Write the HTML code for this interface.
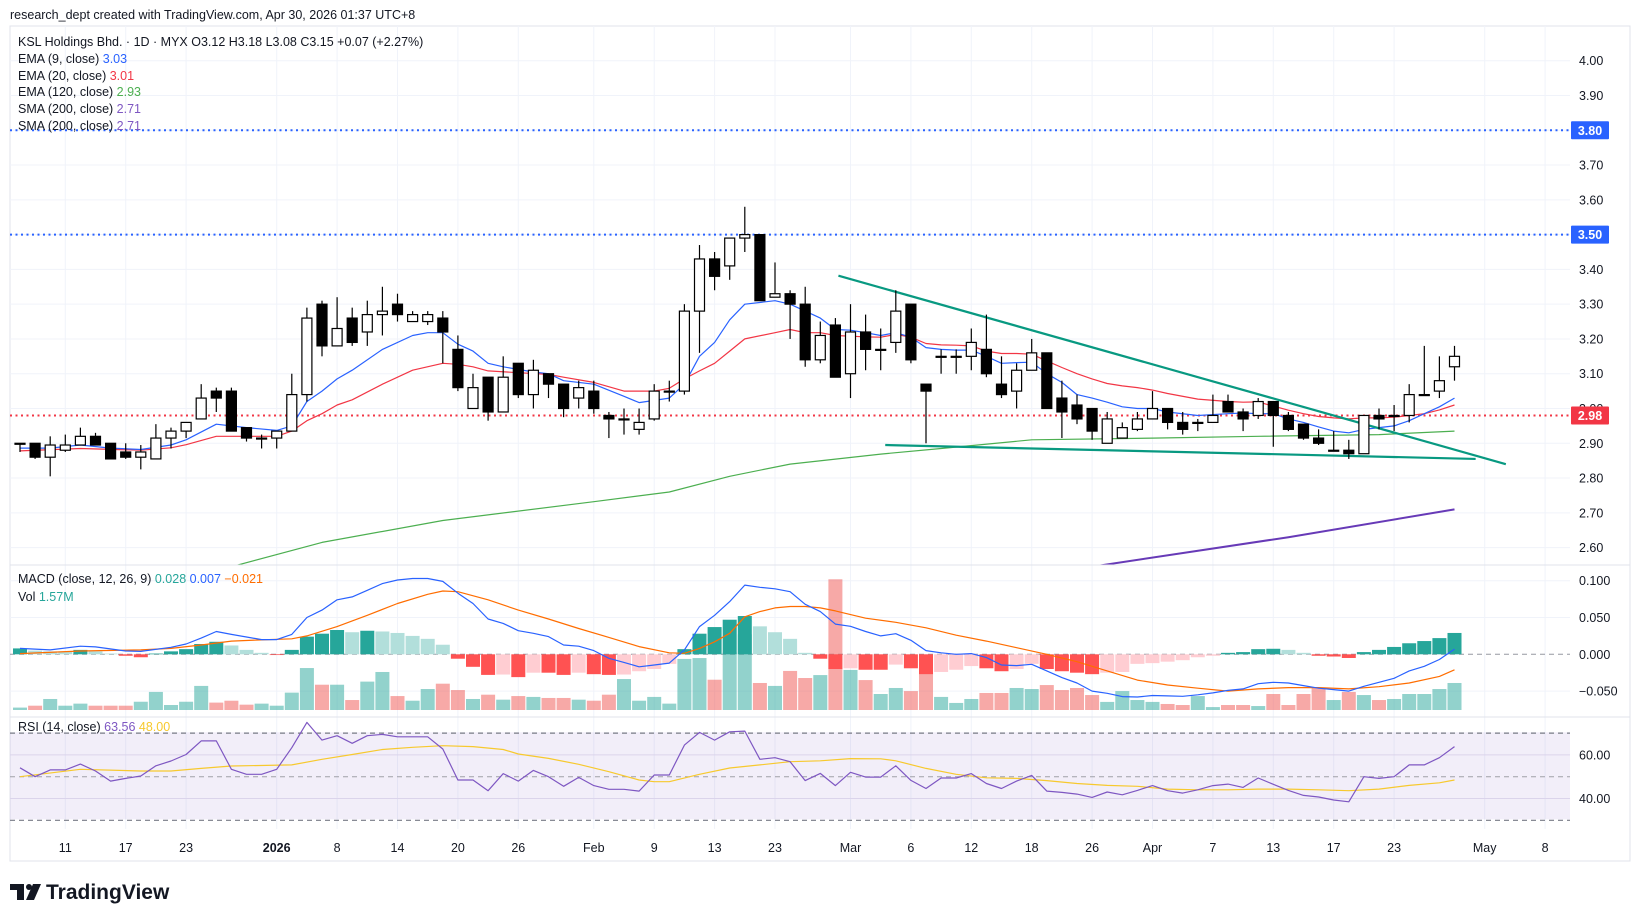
<!DOCTYPE html>
<html><head><meta charset="utf-8"><style>
html,body{margin:0;padding:0;background:#fff;}
svg{display:block;font-family:"Liberation Sans",sans-serif;}
</style></head><body>
<svg id="chart" width="1634" height="917" viewBox="0 0 1634 917" xmlns="http://www.w3.org/2000/svg">
<defs>
<clipPath id="cp-price"><rect x="10" y="26" width="1560" height="539"/></clipPath>
<clipPath id="cp-macd"><rect x="10" y="565" width="1560" height="152"/></clipPath>
<clipPath id="cp-rsi"><rect x="10" y="717" width="1560" height="112"/></clipPath>
</defs>
<text x="10" y="19" font-size="12.5" fill="#131722">research_dept created with TradingView.com, Apr 30, 2026 01:37 UTC+8</text>
<rect x="10" y="26" width="1620" height="835" fill="#fff" stroke="#e0e3eb"/>
<g id="grid"></g>
<rect x="10" y="732.3" width="1560" height="87" fill="#7e57c2" fill-opacity="0.1"/>
<g id="price" clip-path="url(#cp-price)"></g>
<g id="macd" clip-path="url(#cp-macd)"></g>
<g id="rsi" clip-path="url(#cp-rsi)"></g>
<g id="axes"></g>
<g font-size="12.5" fill="#131722">
<text x="18" y="46">KSL Holdings Bhd. · 1D · MYX  O3.12  H3.18  L3.08  C3.15  +0.07 (+2.27%)</text>
<text x="18" y="63">EMA (9, close) <tspan fill="#2962ff">3.03</tspan></text>
<text x="18" y="80">EMA (20, close) <tspan fill="#f23645">3.01</tspan></text>
<text x="18" y="96">EMA (120, close) <tspan fill="#4caf50">2.93</tspan></text>
<text x="18" y="113">SMA (200, close) <tspan fill="#7e57c2">2.71</tspan></text>
<text x="18" y="130">SMA (200, close) <tspan fill="#7e57c2">2.71</tspan></text>
<text x="18" y="583">MACD (close, 12, 26, 9) <tspan fill="#26a69a">0.028</tspan> <tspan fill="#2962ff">0.007</tspan> <tspan fill="#ff6d00">−0.021</tspan></text>
<text x="18" y="601">Vol <tspan fill="#26a69a">1.57M</tspan></text>
<text x="18" y="731">RSI (14, close) <tspan fill="#7e57c2">63.56</tspan> <tspan fill="#f7c92e">48.00</tspan></text>
</g>
<g>
<path d="M10 884 H24 V900 H17 V890 H10 Z" fill="#131722"/>
<circle cx="29" cy="887" r="3" fill="#131722"/>
<path d="M33 884 H41 L34 900 H26 Z" fill="#131722"/>
<text x="46" y="899" font-size="21" font-weight="bold" fill="#131722">TradingView</text>
</g>
</svg>
<script>
const opens=[2.90,2.90,2.86,2.88,2.895,2.92,2.90,2.875,2.86,2.855,2.915,2.935,2.97,3.05,3.05,2.945,2.915,2.915,2.935,3.04,3.30,3.18,3.26,3.22,3.27,3.30,3.25,3.25,3.26,3.17,3.00,3.09,2.99,3.13,3.04,3.10,3.07,3.03,3.05,2.98,2.97,2.94,2.97,3.05,3.05,3.28,3.43,3.41,3.49,3.50,3.32,3.33,3.30,3.14,3.24,3.10,3.22,3.17,3.19,3.30,3.07,3.15,3.15,3.15,3.17,3.07,3.05,3.11,3.16,3.03,3.01,3.00,2.90,2.915,2.94,2.97,3.00,2.96,2.96,2.96,3.02,2.99,2.98,3.02,2.98,2.955,2.915,2.88,2.88,2.87,2.98,2.98,2.98,3.04,3.05,3.12];
const highs=[2.90,2.90,2.92,2.925,2.945,2.93,2.90,2.90,2.895,2.955,2.945,2.96,3.07,3.06,3.06,2.945,2.925,2.935,3.10,3.29,3.31,3.32,3.29,3.31,3.35,3.33,3.28,3.28,3.28,3.21,3.10,3.09,3.15,3.13,3.14,3.10,3.07,3.08,3.08,2.99,3.00,3.00,3.07,3.08,3.30,3.47,3.45,3.49,3.58,3.50,3.42,3.34,3.35,3.25,3.26,3.30,3.27,3.23,3.34,3.30,3.07,3.17,3.17,3.23,3.27,3.15,3.13,3.20,3.16,3.08,3.04,3.00,2.99,2.96,2.99,3.05,3.00,2.99,2.97,3.04,3.04,3.00,3.03,3.02,2.99,2.955,2.94,2.935,2.91,2.98,3.00,3.01,3.07,3.18,3.15,3.18];
const lows=[2.875,2.855,2.805,2.875,2.895,2.895,2.855,2.855,2.825,2.855,2.885,2.915,2.97,2.99,2.935,2.905,2.885,2.885,2.935,3.02,3.15,3.18,3.18,3.18,3.21,3.25,3.25,3.24,3.13,3.05,3.00,2.965,2.99,3.03,3.00,3.03,2.975,3.00,2.985,2.915,2.925,2.925,2.965,3.02,3.04,3.16,3.34,3.37,3.45,3.31,3.32,3.20,3.12,3.13,3.09,3.03,3.11,3.11,3.16,3.13,2.90,3.10,3.10,3.11,3.09,3.03,3.00,3.11,3.00,2.915,2.955,2.91,2.90,2.915,2.935,2.97,2.94,2.925,2.935,2.96,2.99,2.935,2.97,2.89,2.935,2.91,2.895,2.88,2.855,2.87,2.94,2.935,2.96,3.04,3.03,3.08];
const closes=[2.90,2.86,2.895,2.895,2.92,2.895,2.855,2.86,2.875,2.915,2.935,2.96,3.03,3.03,2.935,2.915,2.915,2.935,3.04,3.26,3.18,3.23,3.19,3.27,3.28,3.27,3.27,3.27,3.22,3.06,3.06,2.99,3.09,3.04,3.11,3.07,3.00,3.06,3.00,2.97,2.97,2.96,3.05,3.05,3.28,3.43,3.38,3.49,3.50,3.31,3.33,3.30,3.14,3.21,3.09,3.22,3.17,3.17,3.28,3.14,3.05,3.15,3.15,3.19,3.10,3.04,3.11,3.16,3.00,2.99,2.97,2.935,2.97,2.945,2.97,3.00,2.96,2.94,2.96,2.98,2.99,2.97,3.02,2.98,2.94,2.915,2.90,2.88,2.87,2.98,2.97,2.98,3.04,3.04,3.08,3.15];
const volumes=[0.14,0.25,0.64,0.25,0.37,0.25,0.25,0.25,0.48,1.05,0.29,0.48,1.40,0.43,0.54,0.31,0.37,0.25,1.01,2.44,1.47,1.47,0.58,1.65,2.21,0.81,0.54,1.22,1.53,1.16,0.64,0.89,0.60,0.81,0.76,0.70,0.70,0.60,0.54,0.89,1.80,0.54,0.76,0.37,2.97,3.02,1.76,3.35,4.4,1.57,1.40,2.27,1.86,2.03,7.6,2.33,1.74,0.93,1.28,1.10,2.09,0.76,0.41,0.64,0.99,0.99,1.28,1.22,1.45,1.16,1.28,0.87,0.47,1.10,0.58,0.47,0.35,0.29,0.81,0.17,0.29,0.29,0.23,0.93,0.29,0.93,1.30,0.58,1.05,0.87,0.58,0.64,0.93,0.93,1.22,1.57];
const ema9Idx=[0,2,4,6,8,10,11,13,15,17,18,19,20,21,22,24,26,27,28,29,30,31,32,34,35,36,38,40,41,43,44,45,46,47,48,50,51,52,53,54,55,56,57,58,59,60,61,62,63,64,65,66,67,68,69,70,71,72,73,74,75,76,78,80,81,82,83,84,85,86,87,88,89,90,91,92,93,94,95];
const ema9Val=[2.886,2.886,2.895,2.886,2.882,2.895,2.91,2.955,2.945,2.937,2.95,3.02,3.05,3.085,3.11,3.17,3.21,3.218,3.218,3.185,3.165,3.13,3.12,3.105,3.10,3.08,3.07,3.035,3.017,3.03,3.07,3.15,3.19,3.255,3.30,3.31,3.30,3.28,3.26,3.227,3.225,3.218,3.21,3.218,3.205,3.175,3.17,3.168,3.168,3.15,3.13,3.132,3.133,3.10,3.075,3.04,3.03,3.018,3.005,3.00,3.00,2.99,2.98,2.985,2.987,2.985,2.985,2.97,2.96,2.947,2.935,2.93,2.94,2.945,2.95,2.965,2.985,3.005,3.03];
const ema20Idx=[0,4,8,10,11,13,15,17,18,19,20,21,22,24,26,28,29,30,31,33,35,36,38,40,42,43,44,45,46,47,48,50,51,52,53,54,55,56,57,58,59,60,61,62,63,64,65,66,67,68,69,70,71,72,73,74,75,76,78,80,81,82,83,84,85,86,87,88,89,90,91,92,93,94,95];
const ema20Val=[2.878,2.885,2.88,2.887,2.896,2.92,2.92,2.92,2.935,2.965,2.985,3.01,3.025,3.07,3.11,3.13,3.127,3.12,3.108,3.103,3.098,3.09,3.075,3.05,3.05,3.058,3.085,3.108,3.13,3.165,3.20,3.218,3.227,3.218,3.218,3.21,3.208,3.206,3.205,3.213,3.205,3.187,3.183,3.182,3.18,3.165,3.158,3.158,3.156,3.137,3.118,3.10,3.085,3.072,3.065,3.06,3.053,3.043,3.027,3.02,3.018,3.019,3.007,2.995,2.985,2.977,2.973,2.97,2.973,2.973,2.975,2.98,2.985,2.996,3.01];
const ema120Idx=[14,20,28,38,43,47,51,57,61,67,75,82,90,95];
const ema120Val=[2.545,2.615,2.678,2.732,2.76,2.805,2.84,2.869,2.885,2.91,2.915,2.92,2.925,2.935];
const sma200Idx=[71,84,95];
const sma200Val=[2.545,2.63,2.71];
const hist=[0.008,0.005,0.004,0.004,0.006,0.004,0.001,-0.002,-0.004,0.001,0.004,0.007,0.014,0.017,0.012,0.006,0.002,-0.001,0.006,0.024,0.028,0.033,0.030,0.032,0.031,0.029,0.025,0.021,0.013,-0.006,-0.017,-0.028,-0.0275,-0.031,-0.025,-0.025,-0.028,-0.025,-0.027,-0.028,-0.0275,-0.023,-0.020,-0.013,0.007,0.028,0.037,0.047,0.052,0.038,0.030,0.021,0.002,-0.006,-0.020,-0.019,-0.021,-0.021,-0.014,-0.019,-0.027,-0.024,-0.021,-0.016,-0.019,-0.023,-0.020,-0.013,-0.020,-0.023,-0.025,-0.027,-0.025,-0.024,-0.013,-0.012,-0.010,-0.008,-0.004,-0.002,0.002,0.003,0.007,0.0075,0.006,0.002,-0.002,-0.003,-0.005,0.003,0.006,0.010,0.015,0.018,0.022,0.029];
const macdIdx=[0,2,4,5,7,8,10,11,12,13,14,15,16,17,18,19,20,21,22,23,24,25,26,27,28,29,30,31,32,33,34,35,36,37,38,39,40,41,42,43,44,45,46,47,48,49,50,51,52,53,54,55,56,57,58,59,60,61,62,63,64,65,66,67,68,69,70,71,72,73,74,75,76,77,78,79,80,81,82,83,84,85,86,87,88,89,90,91,92,93,94,95];
const macdVal=[0.008,0.006,0.011,0.010,0.0045,0.004,0.0095,0.014,0.022,0.031,0.027,0.0235,0.020,0.020,0.027,0.050,0.060,0.074,0.078,0.087,0.096,0.101,0.103,0.103,0.099,0.083,0.069,0.048,0.042,0.032,0.0285,0.024,0.0127,0.011,0.005,-0.0054,-0.011,-0.017,-0.0145,-0.012,0.006,0.0376,0.053,0.0716,0.094,0.091,0.089,0.085,0.068,0.058,0.041,0.038,0.031,0.025,0.028,0.019,0.005,0.002,0.0,0.001,-0.0045,-0.0145,-0.0154,-0.0136,-0.0226,-0.0317,-0.039,-0.050,-0.053,-0.0575,-0.058,-0.056,-0.0565,-0.057,-0.055,-0.0525,-0.049,-0.047,-0.040,-0.038,-0.039,-0.0425,-0.046,-0.048,-0.050,-0.0435,-0.038,-0.0326,-0.0226,-0.0163,-0.007,0.007];
const signalIdx=[0,4,8,10,12,14,16,18,19,21,23,25,27,28,29,31,33,35,37,39,41,43,44,45,46,47,48,49,50,51,52,53,54,55,56,58,60,62,64,66,68,70,72,74,76,78,80,82,84,86,88,90,92,94,95];
const signalVal=[0.001,0.0045,0.006,0.008,0.0127,0.018,0.0195,0.021,0.025,0.0376,0.053,0.069,0.0815,0.086,0.085,0.074,0.060,0.048,0.035,0.023,0.0104,0.002,0.0014,0.008,0.017,0.0285,0.051,0.058,0.063,0.065,0.065,0.063,0.059,0.054,0.049,0.0435,0.036,0.026,0.018,0.009,0.0,-0.010,-0.0226,-0.035,-0.0417,-0.046,-0.050,-0.047,-0.0453,-0.0453,-0.047,-0.044,-0.039,-0.030,-0.021];
const rsi=[54.1,50,53.1,53.1,55.8,52.6,48,49.2,50.3,55,57.2,60.2,66.4,66.4,53.4,51.1,51.1,53.4,63.3,74.9,66.8,68.8,65.3,68.8,69.4,68.3,68.3,68.3,62.7,48.5,48.5,43.6,51.4,48,52.9,50,45.6,49.7,45.9,44.2,44.2,43.4,50.8,50.8,64.5,70.3,66.8,70.6,70.9,58,58.7,56.9,48.2,51.5,45.9,52,49.8,49.8,55,48.3,44.6,49.4,49.4,51.4,46.9,44.6,48,50.6,43.4,42.8,42,40.5,43,41.7,43.7,45.9,43.6,42.5,44,45.9,46.6,45.1,49.4,46.5,43.7,41.4,40.7,39.3,38.5,50,49.2,50,55.4,55.4,58.7,63.8];
const rsiMaIdx=[0,4,8,10,12,14,18,20,22,24,26,28,30,32,33,35,37,39,41,42,43,45,47,49,51,53,55,57,58,60,62,64,66,68,70,72,74,76,78,80,82,84,86,88,90,92,94,95];
const rsiMaVal=[50,53.4,52.6,52.6,53.8,54.9,55.4,58,60.2,62.5,63.5,64.2,63.8,62.5,60.4,58.4,55.7,52.3,48.5,47.7,47.7,51.1,54,55.4,56.9,57.3,58.3,58.2,57.3,53.8,51.1,49.5,49.2,48.2,46.9,46,45.6,44.3,44,44,44.3,44.3,44,43.6,44.3,46,47.2,48.5];
const priceTicks=[4.00,3.90,3.80,3.70,3.60,3.50,3.40,3.30,3.20,3.10,3.00,2.90,2.80,2.70,2.60];
const macdTicks=[0.1,0.05,0,-0.05];
const macdTickLabels=["0.100","0.050","0.000","−0.050"];
const rsiTicks=[60,40];
const hLevels=[3.80,3.50,2.98];
const hLevelColors=["#2962ff","#2962ff","#f23645"];
const dateIdx=[3,7,11,17,21,25,29,33,38,42,46,50,55,59,63,67,71,75,79,83,87,91,97,101];
const dateLabels=["11","17","23","2026","8","14","20","26","Feb","9","13","23","Mar","6","12","18","26","Apr","7","13","17","23","May","8"];
const trendUpper=[[54.2,3.382],[98.4,2.84]];
const trendLower=[[57.3,2.895],[96.4,2.855]];

const NS="http://www.w3.org/2000/svg";
const X=i=>20+15.1*i;
const PY=p=>234.6+(3.50-p)*347.8;
const MY=v=>654.3-v*736;
const VY=v=>710-v*17.2;
const RY=r=>776.7-(r-50)*2.18;
function mk(tag,attrs,parent){const e=document.createElementNS(NS,tag);for(const k in attrs)e.setAttribute(k,attrs[k]);parent.appendChild(e);return e;}
const grid=document.getElementById('grid'),price=document.getElementById('price'),macd=document.getElementById('macd'),rsiG=document.getElementById('rsi'),axes=document.getElementById('axes');

dateIdx.forEach((d,k)=>{const l=mk('line',{x1:X(d),x2:X(d),y1:26,y2:829,stroke:'#f0f3fa'},grid);


const t=mk('text',{x:X(d),y:852,'text-anchor':'middle','font-size':12.5,fill:'#131722'},axes);
if(dateLabels[k]==='2026')t.setAttribute('font-weight','bold');
t.textContent=dateLabels[k];

});
priceTicks.forEach(p=>{const l=mk('line',{x1:10,x2:1570,y1:PY(p),y2:PY(p),stroke:'#f0f3fa'},grid);


const t=mk('text',{x:1579,y:PY(p)+4.5,'font-size':12.5,fill:'#131722'},axes);t.textContent=p.toFixed(2);

});
macdTicks.forEach((v,k)=>{const l=mk('line',{x1:10,x2:1570,y1:MY(v),y2:MY(v),stroke:v===0?'#9598a1':'#f0f3fa','stroke-dasharray':v===0?'5 4':'none'},v===0?macd:grid);


const t=mk('text',{x:1579,y:MY(v)+4.5,'font-size':12.5,fill:'#131722'},axes);t.textContent=macdTickLabels[k];

});
rsiTicks.forEach(v=>{const l=mk('line',{x1:10,x2:1570,y1:RY(v),y2:RY(v),stroke:'#e6e2f0'},grid);


const t=mk('text',{x:1579,y:RY(v)+4.5,'font-size':12.5,fill:'#131722'},axes);t.textContent=v.toFixed(2);

});
[565,717].forEach(y=>{const l=mk('line',{x1:10,x2:1630,y1:y,y2:y,stroke:'#e0e3eb'},axes);

});

function poly(idx,val,fy,color,w,parent,name){const pts=idx.map((d,k)=>X(d).toFixed(1)+','+fy(val[k]).toFixed(1)).join(' ');
const p=mk('polyline',{points:pts,fill:'none',stroke:color,'stroke-width':w,'stroke-linejoin':'round'},parent);

return p;}

hLevels.forEach((p,k)=>{const l=mk('line',{x1:10,x2:1570,y1:PY(p),y2:PY(p),stroke:hLevelColors[k],'stroke-width':2,'stroke-dasharray':'2 3.5'},price);

});
poly(ema120Idx,ema120Val,PY,'#4caf50',1.2,price,'ema120-line');
poly(sma200Idx,sma200Val,PY,'#673ab7',2,price,'sma200-line');
poly(ema20Idx,ema20Val,PY,'#f23645',1.2,price,'ema20-line');
poly(ema9Idx,ema9Val,PY,'#2962ff',1.2,price,'ema9-line');
[trendUpper,trendLower].forEach(tl=>{const l=mk('line',{x1:X(tl[0][0]),y1:PY(tl[0][1]),x2:X(tl[1][0]),y2:PY(tl[1][1]),stroke:'#089981','stroke-width':2.2},price);

});
closes.forEach((c,i)=>{const o=opens[i],x=X(i);
const w=mk('line',{x1:x,x2:x,y1:PY(highs[i]),y2:PY(lows[i]),stroke:'#000','stroke-width':1.2},price);


const top=PY(Math.max(o,c)),bot=PY(Math.min(o,c));const h=Math.max(bot-top,1);
const b=mk('rect',{x:x-5,y:top,width:10,height:h,fill:c<o?'#000':'#fff',stroke:'#000','stroke-width':1.2},price);

});

volumes.forEach((v,i)=>{const r=mk('rect',{x:X(i)-7,y:VY(v),width:14,height:710-VY(v),fill:closes[i]>=opens[i]?'#26a69a':'#ef5350','fill-opacity':0.5},macd);

});
hist.forEach((v,i)=>{const prev=i>0?hist[i-1]:0;let col;
if(v>=0)col=v>prev?'#26a69a':'#b2dfdb';else col=v<=prev?'#ff5252':'#ffcdd2';
const y0=MY(0),y1=MY(v);
const r=mk('rect',{x:X(i)-7,y:Math.min(y0,y1),width:14,height:Math.max(Math.abs(y1-y0),0.5),fill:col},macd);

});
poly(signalIdx,signalVal,MY,'#ff6d00',1.2,macd,'macd-signal-line');
poly(macdIdx,macdVal,MY,'#2962ff',1.2,macd,'macd-line');

[70,50,30].forEach(v=>{const l=mk('line',{x1:10,x2:1570,y1:RY(v),y2:RY(v),stroke:v===50?'#a0a0a8':'#787b86','stroke-dasharray':'5 4','stroke-width':v===50?1:1.2},rsiG);

});
poly(rsiMaIdx,rsiMaVal,RY,'#f7c92e',1.2,rsiG,'rsi-ma-line');
poly(rsi.map((_,i)=>i),rsi,RY,'#7e57c2',1.2,rsiG,'rsi-line');

hLevels.forEach((p,k)=>{const r=mk('rect',{x:1571,y:PY(p)-9,width:38,height:18,fill:hLevelColors[k],rx:1},axes);


const t=mk('text',{x:1590,y:PY(p)+4.5,'text-anchor':'middle','font-size':12.5,'font-weight':'bold',fill:'#fff'},axes);t.textContent=p.toFixed(2);

});
</script>
</body></html>
